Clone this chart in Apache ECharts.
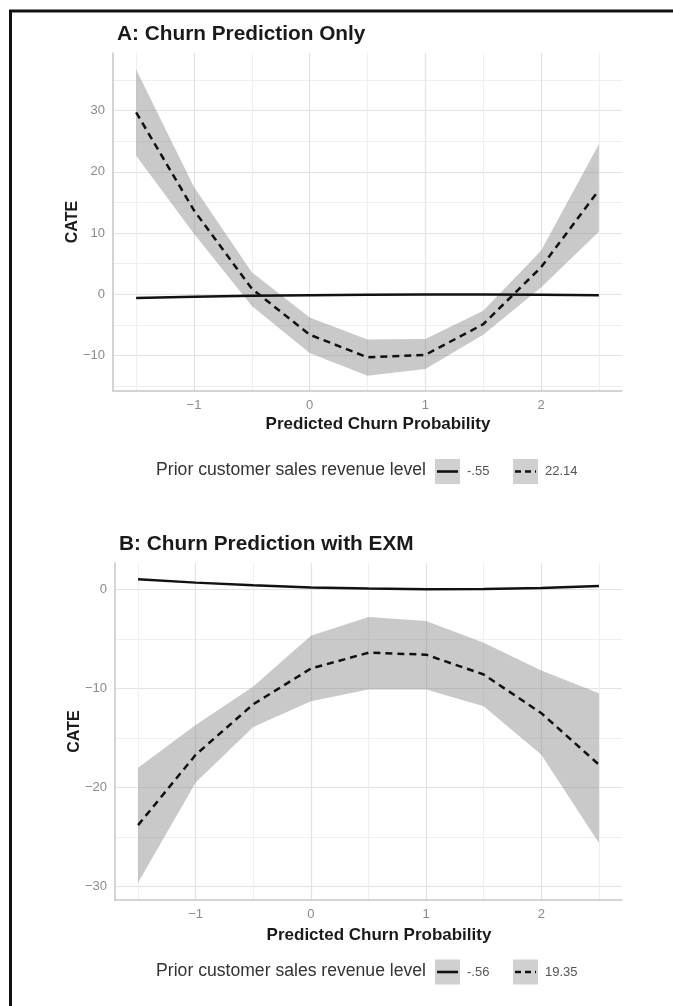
<!DOCTYPE html>
<html>
<head>
<meta charset="utf-8">
<title>CATE by predicted churn probability</title>
<script src="https://cdn.jsdelivr.net/npm/echarts@6.0.0/dist/echarts.min.js"></script>
<style>
  html, body { margin: 0; padding: 0; background: #fff; }
  #chart { width: 673px; height: 1006px; }
</style>
</head>
<body>
<div id="chart"></div>
<script>
// x positions (predicted churn probability, standardised)
const xValues = [-1.5, -1, -0.5, 0, 0.5, 1, 1.5, 2, 2.5]

// Panel A: churn prediction only
const aLowLine = [-0.6, -0.4, -0.25, -0.15, -0.1, -0.05, -0.05, -0.1, -0.15]
const aHighLine = [29.7, 13.7, 0.9, -6.6, -10.3, -9.9, -4.9, 4.4, 17.0]
const aHighUpper = [36.7, 17.5, 3.6, -3.8, -7.4, -7.3, -2.7, 7.1, 24.5]
const aHighLower = [22.6, 9.9, -1.9, -9.6, -13.3, -12.2, -6.6, 1.1, 10.2]

// Panel B: churn prediction with EXM
const bLowLine = [1.0, 0.67, 0.4, 0.17, 0.07, 0.0, 0.03, 0.13, 0.34]
const bHighLine = [-23.8, -16.7, -11.6, -8.0, -6.4, -6.6, -8.6, -12.5, -17.7]
const bHighUpper = [-18.0, -13.7, -9.8, -4.7, -2.8, -3.2, -5.4, -8.2, -10.5]
const bHighLower = [-29.6, -19.5, -13.9, -11.3, -10.1, -10.1, -11.8, -16.7, -25.6]

// grid lines and tick labels
const xGridValues = [-1.5, -1, -0.5, 0, 0.5, 1, 1.5, 2, 2.5]
const xTickLabels = [-1, 0, 1, 2]
const aYGridValues = [-15, -10, -5, 0, 5, 10, 15, 20, 25, 30, 35]
const aYTickLabels = [-10, 0, 10, 20, 30]
const bYGridValues = [-30, -25, -20, -15, -10, -5, 0]
const bYTickLabels = [-30, -20, -10, 0]

const legendTitle = 'Prior customer sales revenue level'
const aLegendLabels = ['-.55', '22.14']
const bLegendLabels = ['-.56', '19.35']

const FONT = '"Liberation Sans", Arial, Helvetica, sans-serif'
const MAJOR = '#e2e2e2'
const MINOR = '#efefef'
const BAND = 'rgba(135,135,135,0.45)'

function minusFmt(v) {
  return v < 0 ? '\u2212' + Math.abs(v) : String(v)
}

function pairs(ys) {
  return xValues.map((x, i) => [x, ys[i]])
}

// one polygon for the whole confidence band
function bandSeries(idx, lower, upper) {
  return {
    type: 'custom',
    xAxisIndex: idx,
    yAxisIndex: idx,
    silent: true,
    z: 1,
    data: xValues.map((x, i) => [x, lower[i], upper[i]]),
    encode: { x: 0, y: [1, 2] },
    renderItem: function(params, api) {
      if (params.dataIndex !== 0) return
      const pts = []
      for (let i = 0; i < xValues.length; i++) pts.push(api.coord([xValues[i], upper[i]]))
      for (let i = xValues.length - 1; i >= 0; i--) pts.push(api.coord([xValues[i], lower[i]]))
      return { type: 'polygon', shape: { points: pts }, style: { fill: BAND } }
    }
  }
}

function lineSeries(idx, ys, dashed) {
  return {
    type: 'line',
    xAxisIndex: idx,
    yAxisIndex: idx,
    data: pairs(ys),
    symbol: 'none',
    silent: true,
    z: 3,
    lineStyle: { color: '#111', width: 2.5, type: dashed ? [7, 5] : 'solid' }
  }
}

function xAxis(idx) {
  return {
    gridIndex: idx,
    type: 'value',
    min: -1.7,
    max: 2.7,
    name: 'Predicted Churn Probability',
    nameLocation: 'middle',
    nameGap: idx === 0 ? 25 : 27,
    nameMoveOverlap: false,
    nameTextStyle: { fontFamily: FONT, fontSize: 17, fontWeight: 'bold', color: '#1a1a1a', padding: [0, 0, 0, 21] },
    axisLine: { show: true, onZero: false, lineStyle: { color: '#c6c6c6', width: 1.5 } },
    axisTick: { show: false, customValues: xGridValues },
    axisLabel: { customValues: xTickLabels, formatter: minusFmt, color: '#8a8a8a', fontSize: 13, fontFamily: FONT, margin: 8 },
    splitLine: { show: true, lineStyle: { color: [MINOR, MAJOR], width: 1.2 } }
  }
}

function yAxis(idx, min, max, gridVals, labels, colors) {
  return {
    gridIndex: idx,
    type: 'value',
    min: min,
    max: max,
    name: 'CATE',
    nameLocation: 'middle',
    nameGap: 32,
    nameMoveOverlap: false,
    nameTextStyle: { fontFamily: FONT, fontSize: 16, fontWeight: 'bold', color: '#1a1a1a' },
    axisLine: { show: true, onZero: false, lineStyle: { color: '#c6c6c6', width: 1.5 } },
    axisTick: { show: false, customValues: gridVals },
    axisLabel: { customValues: labels, formatter: minusFmt, color: '#8a8a8a', fontSize: 13, fontFamily: FONT, margin: 8 },
    splitLine: { show: true, lineStyle: { color: colors, width: 1.2 } }
  }
}

// ggplot-like legend: grey key boxes with a line sample
function legendGraphic(cy, labels) {
  const boxes = [435, 513]
  const els = [{
    type: 'text',
    right: 673 - 426,
    top: cy - 10,
    style: { text: legendTitle, fill: '#333', font: '17.6px ' + FONT }
  }]
  boxes.forEach((bx, i) => {
    els.push({ type: 'rect', shape: { x: bx, y: cy - 12.5, width: 25, height: 25 }, style: { fill: '#d0d0d0' } })
    els.push({
      type: 'line',
      shape: { x1: bx + 2, y1: cy, x2: bx + 23, y2: cy },
      style: { stroke: '#111', lineWidth: 2.6, lineDash: i === 1 ? [6, 4] : null }
    })
    els.push({
      type: 'text',
      x: bx + 32,
      y: cy,
      style: { text: labels[i], fill: '#555', font: '13px ' + FONT, verticalAlign: 'middle' }
    })
  })
  return els
}

const chart = echarts.init(document.getElementById('chart'), null, { renderer: 'canvas' })

chart.setOption({
  backgroundColor: '#fff',
  animation: false,
  title: [
    { text: 'A: Churn Prediction Only', left: 117, top: 24, padding: 0, textStyle: { fontFamily: FONT, fontSize: 20.8, fontWeight: 'bold', color: '#1a1a1a' } },
    { text: 'B: Churn Prediction with EXM', left: 119, top: 534, padding: 0, textStyle: { fontFamily: FONT, fontSize: 20.8, fontWeight: 'bold', color: '#1a1a1a' } }
  ],
  grid: [
    { left: 113, right: 51, top: 53, height: 338 },
    { left: 115, right: 51, top: 563, height: 337 }
  ],
  xAxis: [xAxis(0), xAxis(1)],
  yAxis: [
    yAxis(0, -15.8, 39.4, aYGridValues, aYTickLabels, [MINOR, MAJOR]),
    yAxis(1, -31.35, 2.65, bYGridValues, bYTickLabels, [MAJOR, MINOR])
  ],
  series: [
    bandSeries(0, aHighLower, aHighUpper),
    lineSeries(0, aLowLine, false),
    lineSeries(0, aHighLine, true),
    bandSeries(1, bHighLower, bHighUpper),
    lineSeries(1, bLowLine, false),
    lineSeries(1, bHighLine, true)
  ],
  graphic: [
    // frame edges of the scanned figure
    { type: 'line', shape: { x1: 9, y1: 11, x2: 673, y2: 11 }, style: { stroke: '#111', lineWidth: 3 } },
    { type: 'line', shape: { x1: 10.5, y1: 10, x2: 10.5, y2: 1006 }, style: { stroke: '#111', lineWidth: 3 } }
  ].concat(legendGraphic(471.5, aLegendLabels), legendGraphic(972, bLegendLabels))
})
</script>
</body>
</html>
